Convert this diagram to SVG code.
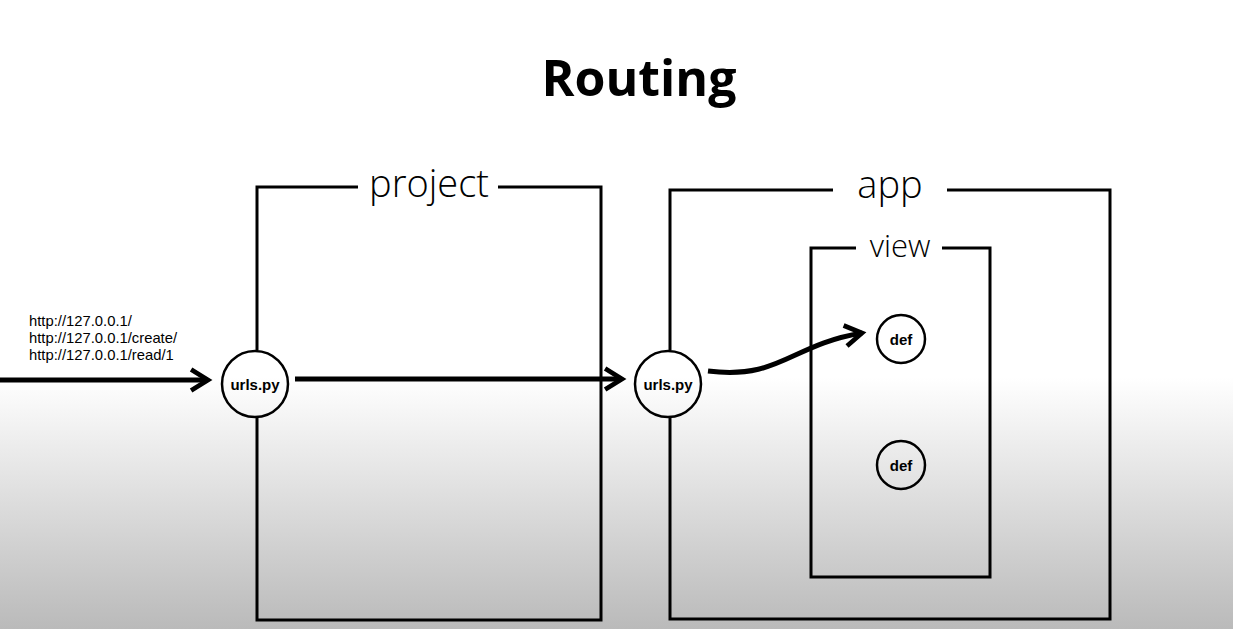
<svg xmlns="http://www.w3.org/2000/svg" width="1233" height="629" viewBox="0 0 1233 629">
<defs>
<linearGradient id="bg" x1="0" y1="0" x2="0" y2="1">
<stop offset="0" stop-color="#ffffff"/>
<stop offset="0.6" stop-color="#ffffff"/>
<stop offset="1" stop-color="#bababa"/>
</linearGradient>
<marker id="chev" viewBox="0 0 10 10" refX="8" refY="5" markerWidth="5.2" markerHeight="5.2" orient="auto" markerUnits="strokeWidth">
<path d="M1.5,1 L8,5 L1.5,9" fill="none" stroke="#000" stroke-width="1.8"/>
</marker>
</defs>
<style>
.box{fill:none;stroke:#000;stroke-width:3}
.circ{fill:none;stroke:#000;stroke-width:2.5}
.arrow{fill:none;stroke:#000;stroke-width:5;marker-end:url(#chev)}
.lbl{font-family:"Open Sans","Noto Sans",sans-serif;font-weight:300;fill:#000;text-anchor:middle}
.node{font-family:"Liberation Sans",Arial,sans-serif;font-weight:bold;fill:#000;text-anchor:middle}
.url{font-family:"Liberation Sans",Arial,sans-serif;font-size:14.8px;fill:#000}
</style>
<rect width="1233" height="629" fill="url(#bg)"/>
<text x="639" y="96" font-family="'Open Sans','Noto Sans',sans-serif" font-weight="bold" font-size="50" text-anchor="middle">Routing</text>
<g id="project">
<path class="box" d="M358,187 H257 V350 M257,417 V620 H601 V187 H498"/>
<text class="lbl" x="429" y="197" font-size="38">project</text>
</g>
<g id="app">
<path class="box" d="M833,190 H670 V350 M670,417 V619 H1110 V190 H947"/>
<text class="lbl" x="890" y="198" font-size="38">app</text>
</g>
<g id="view">
<path class="box" d="M856,248 H811 V577 H990 V248 H942"/>
<text class="lbl" x="900" y="257" font-size="31">view</text>
</g>
<g id="urls1">
<circle class="circ" cx="255" cy="384" r="33"/>
<text class="node" x="255" y="390" font-size="15">urls.py</text>
</g>
<g id="urls2">
<circle class="circ" cx="668" cy="384" r="33"/>
<text class="node" x="668" y="390" font-size="15">urls.py</text>
</g>
<g id="def1">
<circle class="circ" cx="901" cy="339" r="24"/>
<text class="node" x="901" y="345" font-size="15">def</text>
</g>
<g id="def2">
<circle class="circ" cx="901" cy="465" r="24"/>
<text class="node" x="901" y="471" font-size="15">def</text>
</g>
<g id="urls-text">
<text class="url" x="29" y="326">http://127.0.0.1/</text>
<text class="url" x="29" y="343">http://127.0.0.1/create/</text>
<text class="url" x="29" y="360">http://127.0.0.1/read/1</text>
</g>
<g id="connectors">
<path class="arrow" d="M0,380 H208"/>
<path class="arrow" d="M295,379 H622"/>
<path class="arrow" d="M708,371 C780,380 790,345 862,333"/>
</g>
</svg>
